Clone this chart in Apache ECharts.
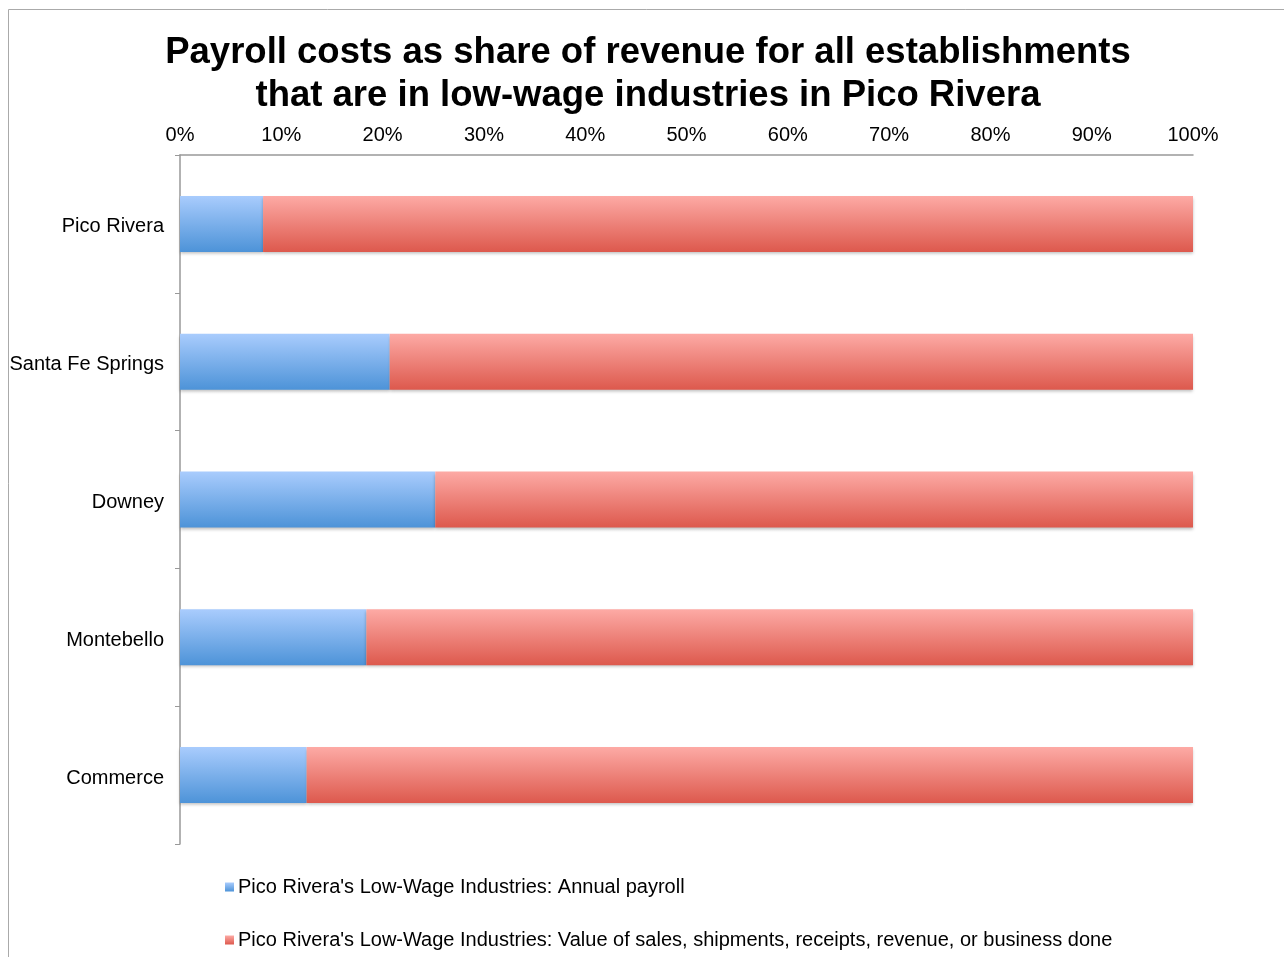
<!DOCTYPE html>
<html><head><meta charset="utf-8">
<script src="https://cdn.jsdelivr.net/npm/echarts@6/dist/echarts.min.js"></script>
<style>html,body{margin:0;padding:0;background:#fff}#c{width:1284px;height:957px}</style>
</head><body><div id="c"></div>
<script>
const categories = ['Pico Rivera', 'Santa Fe Springs', 'Downey', 'Montebello', 'Commerce'];
const payroll = [8.2, 20.7, 25.2, 18.4, 12.5];
const revenue = [91.8, 79.3, 74.8, 81.6, 87.5];
const seriesNames = ["Pico Rivera's Low-Wage Industries: Annual payroll",
  "Pico Rivera's Low-Wage Industries: Value of sales, shipments, receipts, revenue, or business done"];
const titleText = 'Payroll costs as share of revenue for all establishments\nthat are in low-wage industries in Pico Rivera';

const font = 'Liberation Sans, Arial, Helvetica, sans-serif';
function grad(top, bottom) {
  return new echarts.graphic.LinearGradient(0, 0, 0, 1, [{offset: 0, color: top}, {offset: 1, color: bottom}]);
}
const chart = echarts.init(document.getElementById('c'));
chart.setOption({
  animation: false,
  backgroundColor: '#fff',
  title: {
    text: titleText, left: 643, textAlign: 'center', top: 26,
    textStyle: {fontFamily: font, fontSize: 36.5, fontWeight: 'bold', color: '#000', lineHeight: 43}
  },
  graphic: [{
    type: 'rect', shape: {x: 8.5, y: 9.5, width: 1300, height: 1000},
    style: {fill: 'none', stroke: '#aaaaaa', lineWidth: 1}, silent: true
  }],
  grid: {left: 180, right: 91, top: 155, bottom: 113, containLabel: false},
  xAxis: {
    type: 'value', position: 'top', min: 0, max: 100, interval: 10,
    axisLabel: {formatter: '{value}%', fontFamily: font, fontSize: 20, color: '#000', margin: 10},
    axisLine: {show: true, lineStyle: {color: '#999', width: 1.5}},
    axisTick: {show: false}, splitLine: {show: false}
  },
  yAxis: {
    type: 'category', data: categories, inverse: true,
    axisLabel: {
      fontFamily: font, fontSize: 20, color: '#000', margin: 16,
      formatter: '{a|{value}}',
      rich: {a: {fontFamily: font, fontSize: 20, color: '#000', padding: [6, 0, 0, 0]}}
    },
    axisLine: {show: true, lineStyle: {color: '#999', width: 1.5}},
    axisTick: {show: true, inside: false, length: 5, alignWithLabel: false, lineStyle: {color: '#999'}}
  },
  legend: {
    orient: 'vertical', left: 220, top: 872, itemGap: 33,
    itemWidth: 9, itemHeight: 9, icon: 'rect', itemStyle: {borderWidth: 0},
    textStyle: {fontFamily: font, fontSize: 20, color: '#000', padding: [0, 0, 0, -1]},
    data: seriesNames
  },
  series: [
    {
      name: seriesNames[0], type: 'bar', stack: 't', data: payroll, barWidth: 56,
      itemStyle: {color: grad('#a9ccfd', '#4d93d8'), shadowBlur: 3, shadowOffsetY: 2, shadowColor: 'rgba(0,0,0,0.25)'}
    },
    {
      name: seriesNames[1], type: 'bar', stack: 't', data: revenue, barWidth: 56,
      itemStyle: {color: grad('#fdaaa5', '#dd594d'), shadowBlur: 3, shadowOffsetY: 2, shadowColor: 'rgba(0,0,0,0.25)'}
    }
  ]
});
</script></body></html>
